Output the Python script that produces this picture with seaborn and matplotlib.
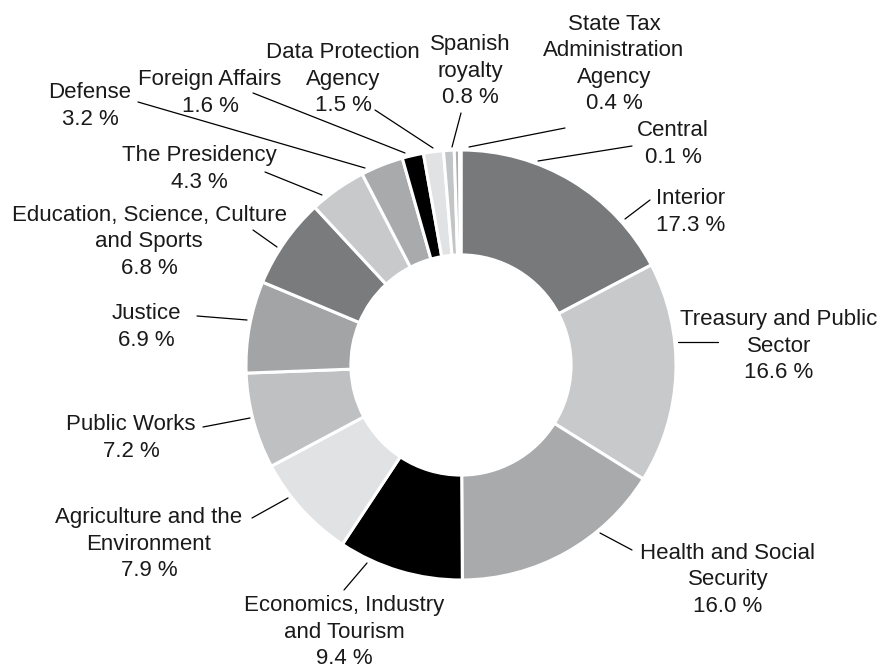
import matplotlib
matplotlib.use("Agg")
import matplotlib.pyplot as plt
import seaborn as sns

# Budget share by ministry, clockwise from 12 o'clock
labels = ["Interior", "Treasury and Public\nSector", "Health and Social\nSecurity",
          "Economics, Industry\nand Tourism", "Agriculture and the\nEnvironment",
          "Public Works", "Justice", "Education, Science, Culture\nand Sports",
          "The Presidency", "Defense", "Foreign Affairs", "Data Protection\nAgency",
          "Spanish\nroyalty", "State Tax\nAdministration\nAgency", "Central"]
shares = [17.3, 16.6, 16.0, 9.4, 7.9, 7.2, 6.9, 6.8, 4.3, 3.2, 1.6, 1.5, 0.8, 0.4, 0.1]
colors = ["#78797b", "#c8c9cb", "#a9aaac", "#000000", "#e1e2e3",
          "#bfc0c2", "#a3a4a6", "#7a7b7d", "#c8c9cb", "#a9aaac",
          "#000000", "#e1e2e3", "#c3c4c6", "#aeafb1", "#7a7b7d"]

# label layout in pixels: text centre, leader start (ring side), leader end (text side)
text_pos = [(691, 212), (779, 346), (728, 580), (344, 632), (149, 544),
            (131, 438), (146, 327), (149, 242), (199, 169), (90, 106),
            (210, 93), (343, 79), (470, 71), (614, 64), (673, 144)]
line_from = [(625, 219), (678, 342), (600, 533), (367, 563), (288, 498),
             (250, 418), (247, 320), (277, 247), (322, 195), (365, 168),
             (405, 153), (433, 148), (452, 147), (469, 147), (538, 161)]
line_to = [(650, 200), (718, 342), (632, 550), (344, 590), (252, 518),
           (203, 427), (197, 316), (253, 230), (265, 172), (138, 102),
           (253, 93), (375, 110), (461, 113), (565, 128), (632, 146)]

sns.set_theme(style="white")
plt.rcParams['font.family'] = ['Liberation Sans', 'DejaVu Sans']

W, H = 883, 669
CX, CY, R = 461, 365, 215


def px(x, y):
    return (x - CX) / R, (CY - y) / R


fig = plt.figure(figsize=(W / 100, H / 100), dpi=100)
ax = fig.add_axes([0, 0, 1, 1])

ax.pie(shares, colors=colors, startangle=90, counterclock=False, radius=1,
       wedgeprops=dict(width=0.488, edgecolor="white", linewidth=2.2))

for lab, val, tp, a, b in zip(labels, shares, text_pos, line_from, line_to):
    x0, y0 = px(*a)
    x1, y1 = px(*b)
    ax.plot([x0, x1], [y0, y1], color="black", lw=0.9)
    tx, ty = px(*tp)
    ax.text(tx, ty, f"{lab}\n{val:.1f} %", ha="center", va="center",
            multialignment="center", fontsize=16, linespacing=1.35,
            color="#1a1a1a")

ax.set_xlim(-CX / R, (W - CX) / R)
ax.set_ylim(-(H - CY) / R, CY / R)
ax.set_aspect("auto")
ax.axis("off")

fig.savefig("out.png", dpi=100)
